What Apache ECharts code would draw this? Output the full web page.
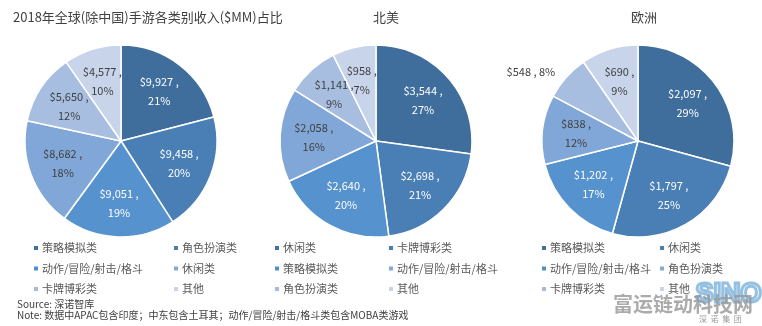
<!DOCTYPE html>
<html>
<head>
<meta charset="utf-8">
<script src="https://cdn.jsdelivr.net/npm/echarts@6/dist/echarts.min.js"></script>
<style>
  html, body { margin: 0; padding: 0; background: #fff; }
  #chart { width: 762px; height: 326px; }
</style>
</head>
<body>
<div id="chart"></div>
<script>
// 2018 mobile game revenue by genre ($MM): global (ex-China), North America, Europe
const globalNames = ['策略模拟类', '角色扮演类', '动作/冒险/射击/格斗', '休闲类', '卡牌博彩类', '其他'];
const globalValues = [9927, 9458, 9051, 8682, 5650, 4577];

const naNames = ['休闲类', '卡牌博彩类', '策略模拟类', '动作/冒险/射击/格斗', '角色扮演类', '其他'];
const naValues = [3544, 2698, 2640, 2058, 1141, 958];

const euNames = ['策略模拟类', '休闲类', '动作/冒险/射击/格斗', '角色扮演类', '卡牌博彩类', '其他'];
const euValues = [2097, 1797, 1202, 838, 548, 690];

const mainTitle = '2018年全球(除中国)手游各类别收入($MM)占比';
const regionTitles = ['北美', '欧洲'];
const sourceText = 'Source: 深诺智库';
const noteText = 'Note: 数据中APAC包含印度；中东包含土耳其；动作/冒险/射击/格斗类包含MOBA类游戏';

// slice shades by position in each pie, darkest first
const sliceColors = ['#3f6e9c', '#4a7fb5', '#5692cd', '#80a7d7', '#a7bee1', '#c7d4ea'];
const legendColors = ['#41709e', '#4a80b0', '#5090c8', '#86a9d0', '#abb8d8', '#cad3e6'];

const FONT = '"Microsoft YaHei", "Noto Sans CJK SC", sans-serif';
const R = 96;
const LABEL_RATIO = 0.65;   // value labels sit at 65% of the radius
const centers = [[121, 141], [376, 141], [638, 141]];

function fmtMoney(v) {
  return '$' + v.toLocaleString('en-US');
}

// whole-number shares that add up to 100 (largest remainder)
function roundedShares(values) {
  const sum = values.reduce((a, b) => a + b, 0);
  const raw = values.map(v => v / sum * 100);
  const out = raw.map(Math.floor);
  let left = 100 - out.reduce((a, b) => a + b, 0);
  const order = raw.map((r, i) => [r - Math.floor(r), i]).sort((a, b) => b[0] - a[0]);
  for (let k = 0; k < left; k++) out[order[k][1]] += 1;
  return out;
}

function pieSeries(names, values, center, outsideIdx) {
  const shares = roundedShares(values);
  const total = values.reduce((a, b) => a + b, 0);
  const sliceData = names.map((n, i) => {
    const item = {
      name: n,
      value: values[i],
      itemStyle: { color: sliceColors[i] }
    };
    if (i === outsideIdx) {
      item.label = {
        show: true,
        position: 'outside',
        fontFamily: FONT,
        fontSize: 11,
        color: '#404040',
        formatter: () => fmtMoney(values[i]) + ' , ' + shares[i] + '%'
      };
      item.labelLine = { show: false, length: 8, length2: 0 };
    }
    return item;
  });
  return [
    {
      type: 'pie',
      center: center,
      radius: [0, R],
      startAngle: 90,
      clockwise: true,
      silent: true,
      avoidLabelOverlap: false,
      itemStyle: { borderColor: '#ffffff', borderWidth: 1.5 },
      label: { show: false },
      labelLine: { show: false },
      emphasis: { disabled: true },
      data: sliceData
    },
    {
      // value labels placed along each slice's bisector
      type: 'custom',
      coordinateSystem: 'none',
      silent: true,
      z: 5,
      data: values,
      renderItem: function (params, api) {
        const i = params.dataIndex;
        if (i === outsideIdx) return null;
        const before = values.slice(0, i).reduce((a, b) => a + b, 0);
        const mid = (before + values[i] / 2) / total * Math.PI * 2;
        const rho = R * LABEL_RATIO;
        return {
          type: 'text',
          x: center[0] + rho * Math.sin(mid),
          y: center[1] - rho * Math.cos(mid),
          style: {
            text: fmtMoney(values[i]) + ' ,\n' + shares[i] + '%',
            fill: i < 3 ? '#ffffff' : '#404040',
            font: '11px ' + FONT,
            lineHeight: 19,
            align: 'center',
            verticalAlign: 'middle'
          }
        };
      }
    }
  ];
}

function legendColumn(names, colorIdx, left) {
  return {
    orient: 'vertical',
    left: left,
    top: 241,
    icon: 'rect',
    itemWidth: 6,
    itemHeight: 6,
    itemGap: 6.5,
    padding: 0,
    selectedMode: false,
    textStyle: { fontFamily: FONT, fontSize: 11, color: '#595959', lineHeight: 14, padding: [0, 0, 0, -2] },
    data: names.map((n, k) => ({ name: n, itemStyle: { color: legendColors[colorIdx[k]] } }))
  };
}

// each pie's legend is two columns, filled row by row
function legendPair(names, leftA, leftB) {
  const colA = [0, 2, 4], colB = [1, 3, 5];
  return [
    legendColumn(colA.map(i => names[i]), colA, leftA),
    legendColumn(colB.map(i => names[i]), colB, leftB)
  ];
}

const chart = echarts.init(document.getElementById('chart'), null, { renderer: 'canvas' });

chart.setOption({
  animation: false,
  backgroundColor: '#ffffff',
  title: [
    { text: mainTitle, left: 8, top: 6, textStyle: { fontFamily: FONT, fontSize: 13, fontWeight: 'normal', color: '#404040' } },
    { text: regionTitles[0], left: 381, top: 6, textAlign: 'center', textStyle: { fontFamily: FONT, fontSize: 13, fontWeight: 'normal', color: '#404040' } },
    { text: regionTitles[1], left: 639, top: 6, textAlign: 'center', textStyle: { fontFamily: FONT, fontSize: 13, fontWeight: 'normal', color: '#404040' } }
  ],
  legend: [
    ...legendPair(globalNames, 32, 172),
    ...legendPair(naNames, 273, 387),
    ...legendPair(euNames, 540, 658)
  ],
  series: [
    ...pieSeries(globalNames, globalValues, centers[0], -1),
    ...pieSeries(naNames, naValues, centers[1], -1),
    ...pieSeries(euNames, euValues, centers[2], 4)
  ],
  graphic: [
    { type: 'text', left: 17, top: 299, style: { text: sourceText, font: '10px ' + FONT, fill: '#404040' } },
    { type: 'text', left: 17, top: 310, style: { text: noteText, font: '10px ' + FONT, fill: '#404040' } },
    { type: 'text', left: 694, top: 280, style: { text: 'SINO', font: 'bold 27px "Liberation Sans", sans-serif', fill: 'rgba(255,255,255,0)', stroke: 'rgba(60,140,200,0.55)', lineWidth: 3 } },
    { type: 'text', left: 613, top: 294, style: { text: '富运链动科技网', font: 'bold 20px "Noto Sans CJK SC", sans-serif', fill: 'rgba(150,150,150,0.8)' } },
    { type: 'text', left: 699, top: 315, style: { text: '深  诺  集  团', font: '8px "Noto Sans CJK SC", sans-serif', fill: '#999999' } }
  ]
});
</script>
</body>
</html>
